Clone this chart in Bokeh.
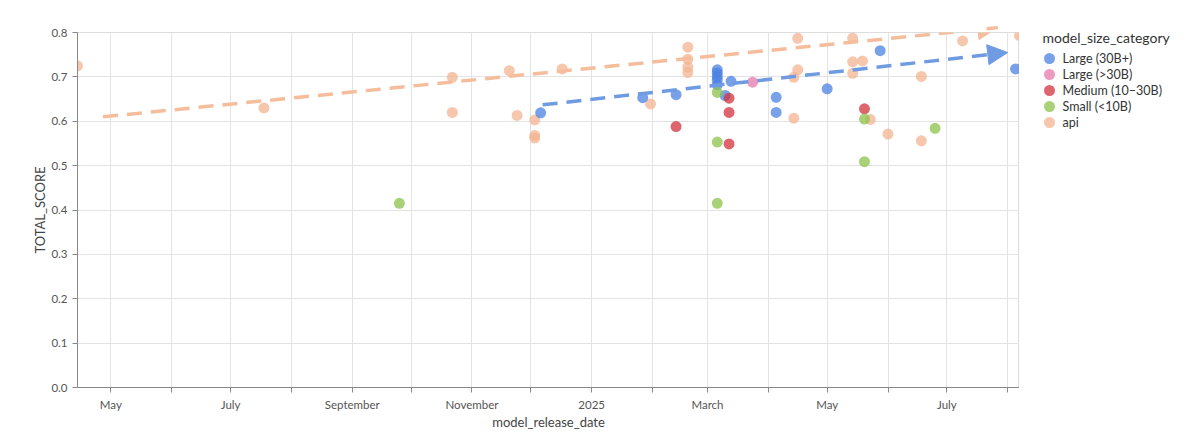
import pandas as pd
from bokeh.plotting import figure
from bokeh.layouts import row
from bokeh.models import (Range1d, FixedTicker, NumeralTickFormatter, Arrow, NormalHead,
                          ColumnDataSource)
from bokeh.core.properties import value
from bokeh.embed import file_html
from bokeh.resources import INLINE

FONT = "Lato"

categories = ["Large (30B+)", "Large (>30B)", "Medium (10\u201330B)", "Small (<10B)", "api"]
colors = ["#4b82e1", "#e678aa", "#d2323a", "#8cc34b", "#f3b491"]

large_dates = ["2024-12-06", "2025-01-27", "2025-02-13", "2025-03-06", "2025-03-06", "2025-03-06",
               "2025-03-06", "2025-03-06", "2025-03-10", "2025-03-13", "2025-04-05", "2025-04-05",
               "2025-05-01", "2025-05-28", "2025-08-05"]
large_vals = [0.619, 0.653, 0.660, 0.716, 0.709, 0.701, 0.693, 0.682, 0.658, 0.690, 0.654, 0.620,
              0.673, 0.759, 0.718]

large2_dates = ["2025-03-24"]
large2_vals = [0.688]

medium_dates = ["2025-02-13", "2025-03-12", "2025-03-12", "2025-03-12", "2025-05-20"]
medium_vals = [0.588, 0.652, 0.620, 0.549, 0.628]

small_dates = ["2024-09-25", "2025-03-06", "2025-03-06", "2025-03-06", "2025-05-20", "2025-05-20",
               "2025-06-25"]
small_vals = [0.415, 0.665, 0.553, 0.415, 0.605, 0.509, 0.584]

api_dates = ["2024-04-14", "2024-07-18", "2024-10-22", "2024-10-22", "2024-11-20", "2024-11-24",
             "2024-12-03", "2024-12-03", "2024-12-03", "2024-12-17", "2025-01-31", "2025-02-19",
             "2025-02-19", "2025-02-19", "2025-02-19", "2025-04-14", "2025-04-14", "2025-04-16",
             "2025-04-16", "2025-05-14", "2025-05-14", "2025-05-14", "2025-05-19", "2025-05-23",
             "2025-06-01", "2025-06-18", "2025-06-18", "2025-07-09", "2025-08-07"]
api_vals = [0.725, 0.630, 0.699, 0.620, 0.714, 0.613, 0.603, 0.568, 0.562, 0.718, 0.639, 0.767,
            0.740, 0.722, 0.710, 0.699, 0.607, 0.787, 0.716, 0.787, 0.734, 0.708, 0.736, 0.604,
            0.571, 0.701, 0.556, 0.781, 0.793]

trend_api_dates = ["2024-04-27", "2025-07-27"]
trend_api_vals = [0.610, 0.811]
trend_large_dates = ["2024-12-07", "2025-08-01"]
trend_large_vals = [0.637, 0.755]

x_start, x_end = "2024-04-14", "2025-08-07"
tick_dates = ["2024-05-01", "2024-06-01", "2024-07-01", "2024-08-01", "2024-09-01", "2024-10-01",
              "2024-11-01", "2024-12-01", "2025-01-01", "2025-02-01", "2025-03-01", "2025-04-01",
              "2025-05-01", "2025-06-01", "2025-07-01", "2025-08-01"]
tick_labels = ["May", "", "July", "", "September", "", "November", "", "2025", "", "March", "",
               "May", "", "July", ""]
y_ticks = [0.0, 0.1, 0.2, 0.3, 0.4, 0.5, 0.6, 0.7, 0.8]
legend_title = "model_size_category"


def ms(d):
    return int(pd.Timestamp(d).value // 10**6)


TOP, FRAME_H, BOTTOM = 32, 355, 52
p = figure(output_backend="svg", toolbar_location=None, x_axis_type="datetime",
           frame_width=942, frame_height=FRAME_H,
           min_border_left=77, min_border_top=TOP, min_border_bottom=BOTTOM, min_border_right=0,
           x_range=Range1d(ms(x_start), ms(x_end)), y_range=Range1d(0, 0.8))
p.outline_line_color = "#dddddd"
p.background_fill_color = "white"

tick_ms = [ms(d) for d in tick_dates]
p.xaxis.ticker = FixedTicker(ticks=tick_ms)
p.xaxis.major_label_overrides = {t: l for t, l in zip(tick_ms, tick_labels)}
p.yaxis.ticker = FixedTicker(ticks=y_ticks)
p.yaxis.formatter = NumeralTickFormatter(format="0.0")
p.xgrid.ticker = FixedTicker(ticks=tick_ms)
p.ygrid.ticker = FixedTicker(ticks=y_ticks)
for g in (p.xgrid, p.ygrid):
    g.grid_line_color = "#e3e3e3"
    g.grid_line_width = 1

for ax in (p.xaxis, p.yaxis):
    ax.axis_line_color = "#888888"
    ax.major_tick_line_color = "#888888"
    ax.major_tick_out = 5
    ax.major_tick_in = 0
    ax.minor_tick_line_color = None
    ax.major_label_text_font = FONT
    ax.major_label_text_font_size = "11.5px"
    ax.major_label_text_color = "#555555"
    ax.axis_label_text_font = FONT
    ax.axis_label_text_font_size = "13px"
    ax.axis_label_text_font_style = "normal"
    ax.axis_label_text_color = "#444444"
p.xaxis.axis_label = "model_release_date"
p.yaxis.axis_label = "TOTAL_SCORE"
p.xaxis.major_label_standoff = 5
p.xaxis.axis_label_standoff = 0
p.yaxis.axis_label_standoff = 0

series = [
    (large_dates, large_vals),
    (large2_dates, large2_vals),
    (medium_dates, medium_vals),
    (small_dates, small_vals),
    (api_dates, api_vals),
]

draw_order = [4, 0, 1, 2, 3]
for i in draw_order:
    d, v = series[i]
    src = ColumnDataSource(dict(x=[ms(t) for t in d], y=v))
    p.scatter("x", "y", source=src, size=11, fill_color=colors[i], fill_alpha=0.75,
              line_color=None)

# trend arrows
for dts, vals, col in ((trend_api_dates, trend_api_vals, "#f5bd9c"),
                       (trend_large_dates, trend_large_vals, "#6f9be3")):
    head = NormalHead(size=20, fill_color=col, line_color=col, line_width=1)
    p.add_layout(Arrow(x_start=ms(dts[0]), y_start=vals[0], x_end=ms(dts[1]), y_end=vals[1],
                       line_color=col, line_width=3.5, line_dash="15 9", end=head))

# legend panel: a small figure whose frame is aligned with the main frame,
# using pixel coordinates measured from the frame top
LW = 165
lg = figure(output_backend="svg", toolbar_location=None, frame_width=LW, frame_height=FRAME_H,
            min_border_left=0, min_border_right=0, min_border_top=TOP, min_border_bottom=BOTTOM,
            x_range=Range1d(0, LW), y_range=Range1d(FRAME_H, 0),
            x_axis_location=None, y_axis_location=None)
lg.grid.visible = False
lg.outline_line_color = None
lg.text(x=[23], y=[37 - TOP], text=[legend_title], text_font=value(FONT), text_font_size="14px",
        text_color="#333333", text_baseline="middle")
item_y = [58 - TOP + 16 * i for i in range(len(categories))]
lg.scatter(x=[30] * len(categories), y=item_y, size=11, fill_color=colors, fill_alpha=0.75,
           line_color=None)
lg.text(x=[43] * len(categories), y=item_y, text=categories, text_font=value(FONT),
        text_font_size="12.5px", text_color="#333333", text_baseline="middle")

layout = row(p, lg)
open("out.html", "w").write(file_html(layout, INLINE))
